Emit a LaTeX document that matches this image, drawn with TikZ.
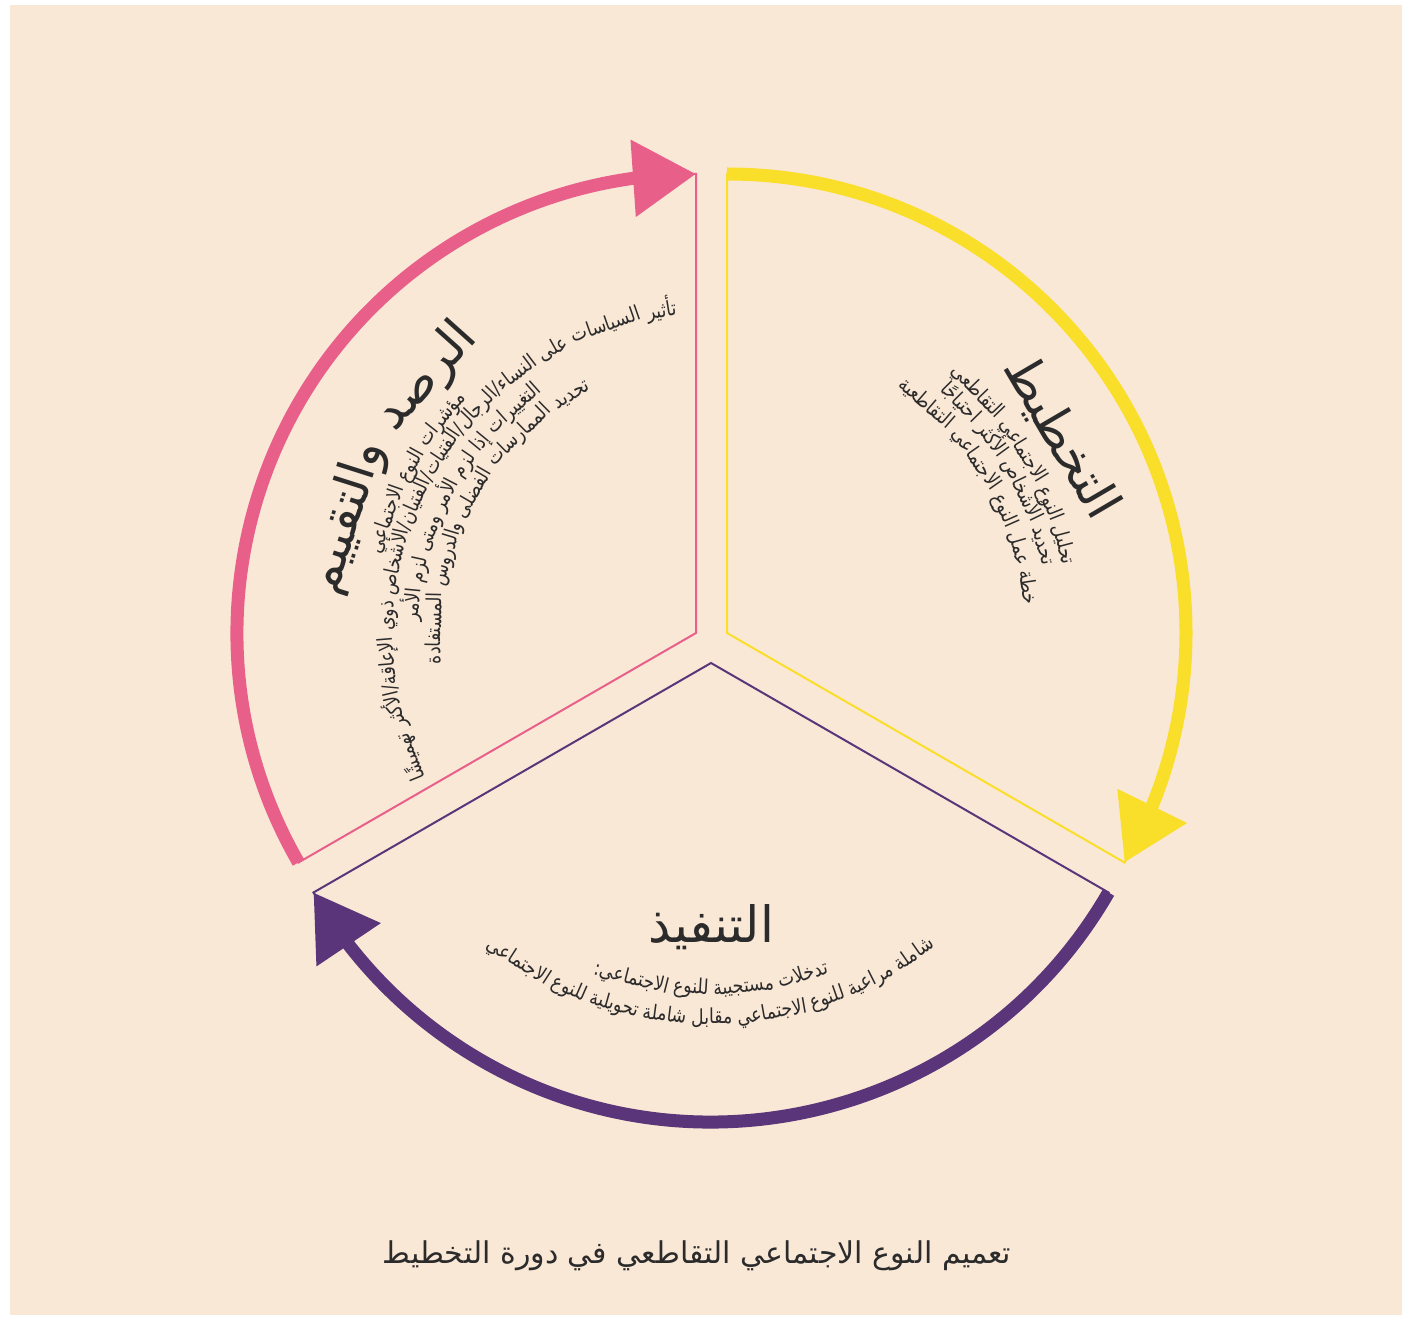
\documentclass[tikz,border=0pt]{standalone}
\usepackage{fontspec}
\usetikzlibrary{arrows.meta,bending}
\TeXXeTstate=1
\newfontfamily\arabicfont[Script=Arabic]{DejaVu Sans}
\newfontfamily\arabicnarrow[Script=Arabic,FakeStretch=0.84]{DejaVu Sans}

\definecolor{bgbeige}{HTML}{FAE8D7}
\definecolor{pinkc}{HTML}{E8608A}
\definecolor{yellowc}{HTML}{F9DE2A}
\definecolor{purplec}{HTML}{5A3579}
\definecolor{inkc}{HTML}{2B2B2B}

\newcommand\titlefont{\arabicfont\fontsize{25}{29}\selectfont}
\newcommand\bodyfont{\arabicnarrow\fontsize{10.3}{12}\selectfont}
\newcommand\capfont{\arabicfont\fontsize{15}{18}\selectfont}

\newdimen\arcL
\newdimen\arcW
\newdimen\arcS
\newdimen\arcC
\def\slashmark{/}
\def\pxunit{0.5}

% width of a piece of text, measured outside the picture
\newcommand\arcmeasure[2]{%
  \pgfinterruptpicture\setbox0=\hbox{#2}\global#1=\wd0\endpgfinterruptpicture}

% words of one line set along a circle: centre, baseline radius, middle angle,
% 1 = letters face outwards / -1 = letters face the centre, font, words
\newcommand\arcline[6]{%
  \arcmeasure\arcS{#5\ }%
  \global\arcL=0pt
  \foreach \w in {#6}{%
    \arcmeasure\arcW{#5\beginR\w\endR}%
    \ifx\w\slashmark
      \global\advance\arcL by -\arcS
      \global\advance\arcL by \arcW
    \else
      \global\advance\arcL by \arcW
      \global\advance\arcL by \arcS
    \fi
  }%
  \global\advance\arcL by -\arcS
  \pgfmathsetmacro\arcR{#2*\pxunit}%
  \pgfmathsetmacro\arcStart{#3-(#4)*deg(0.5*\the\arcL/\arcR)}%
  \global\arcC=0pt
  \foreach \w in {#6}{%
    \arcmeasure\arcW{#5\beginR\w\endR}%
    \ifx\w\slashmark \global\advance\arcC by -\arcS \fi
    \pgfmathsetmacro\arcA{\arcStart+(#4)*deg((\the\arcC+0.5*\the\arcW)/\arcR)}%
    \pgfmathsetmacro\arcRot{\arcA-90*(#4)}%
    \node[arctext, rotate=\arcRot] at ([shift={(\arcA:#2)}]#1) {#5\beginR\w\endR};
    \global\advance\arcC by \arcW
    \ifx\w\slashmark\else \global\advance\arcC by \arcS \fi
  }%
}

\tikzset{
  arctext/.style={inner sep=0pt, anchor=base, text=inkc},
  thinside/.style={line width=1pt, line join=miter},
  cyclearrow/.style={line width=6.5pt, -{Triangle[length=31.5pt,width=37pt,flex]}}
}

\begin{document}
\begin{tikzpicture}[x=0.5pt,y=0.5pt]
\useasboundingbox (0,0) rectangle (1402,1318);
\fill[bgbeige] (10,3) rectangle (1402,1313);

\coordinate (ycen) at (727,685);
\coordinate (pcen) at (696,685);
\coordinate (vcen) at (711,655);
\coordinate (ptxt) at (714,684);

% sectors
\draw[thinside, yellowc] (ycen) -- ([shift={(90:459)}]ycen) arc[start angle=90, end angle=-30, radius=459] -- cycle;
\draw[thinside, pinkc] (pcen) -- ([shift={(210:459)}]pcen) arc[start angle=210, end angle=90, radius=459] -- cycle;
\draw[thinside, purplec] (vcen) -- ([shift={(-30:459)}]vcen) arc[start angle=-30, end angle=-150, radius=459] -- cycle;

% cycle arrows
\draw[cyclearrow, yellowc] ([shift={(90:459)}]ycen) arc[start angle=90, end angle=-30, radius=459];
\draw[cyclearrow, pinkc] ([shift={(210:459)}]pcen) arc[start angle=210, end angle=90, radius=459];
\draw[cyclearrow, purplec] ([shift={(-30:459)}]vcen) arc[start angle=-30, end angle=-150, radius=459];

% planning
\arcline{ycen}{372}{30.4}{1}{\titlefont}{التخطيط}
\arcline{ycen}{342}{30.4}{1}{\bodyfont}{تحليل,النوع,الاجتماعي,التقاطعي}
\arcline{ycen}{322}{30.4}{1}{\bodyfont}{تحديد,الأشخاص,الأكثر,احتياجًا}
\arcline{ycen}{298}{30.4}{1}{\bodyfont}{خطة,عمل,النوع,الاجتماعي,التقاطعية}

% monitoring and evaluation
\arcline{ptxt}{372}{151.5}{1}{\titlefont}{الرصد,والتقييم}
\arcline{ptxt}{341}{151.5}{1}{\bodyfont}{مؤشرات,النوع,الاجتماعي}
\arcline{ptxt}{321}{151.5}{1}{\bodyfont}{تأثير,السياسات,على,النساء,/,الرجال,/,الفتيات,/,الفتيان,/,الأشخاص,ذوي,الإعاقة,/,الأكثر,تهميشًا}
\arcline{ptxt}{296}{151.5}{1}{\bodyfont}{التغييرات,إذا,لزم,الأمر,ومتى,لزم,الأمر}
\arcline{ptxt}{273}{151.5}{1}{\bodyfont}{تحديد,الممارسات,الفضلى,والدروس,المستفادة}

% implementation
\arcline{vcen}{279}{-90}{-1}{\titlefont}{التنفيذ}
\arcline{vcen}{331}{-90}{-1}{\bodyfont}{تدخلات,مستجيبة,للنوع,الاجتماعي:}
\arcline{vcen}{361}{-90}{-1}{\bodyfont}{شاملة,مراعية,للنوع,الاجتماعي,مقابل,شاملة,تحويلية,للنوع,الاجتماعي}

\node[arctext] (caption) at (697,55) {\capfont\beginR تعميم النوع الاجتماعي التقاطعي في دورة التخطيط\endR};
\end{tikzpicture}
\end{document}
